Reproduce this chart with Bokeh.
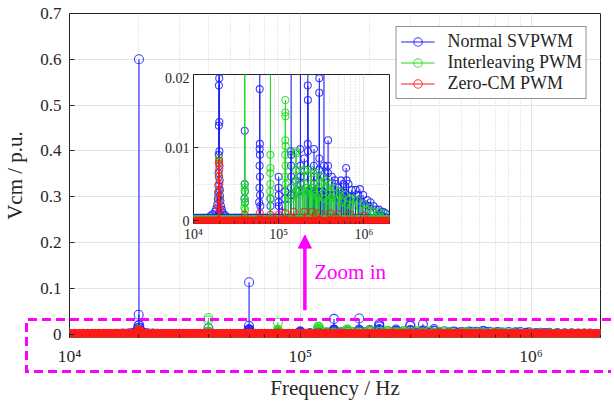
from bokeh.plotting import figure
from bokeh.models import (ColumnDataSource, Range1d, FixedTicker, Legend, LegendItem,
                          Arrow, NormalHead, Label, Div)
from bokeh.layouts import column
from bokeh.embed import file_html
from bokeh.resources import INLINE

# ---------------- data (frequencies in kHz, amplitudes in p.u.) ----------------
# sampled FFT bins along the spectrum floor
floor_khz = [10, 10.5, 11, 11.5, 12, 12.5, 13, 13.5, 14, 14.5, 15, 15.5, 16, 16.5, 17, 17.5,
             18, 18.5, 19, 19.5, 20, 20.5, 21, 22, 23, 24, 25, 26, 27, 28, 29, 30, 31, 32, 33,
             34, 35, 36, 37, 38, 39, 40, 42, 44, 46, 48, 50, 52, 54, 56, 58, 60, 62, 64, 66, 68,
             70, 72.5, 75, 77.5, 80, 82.5, 85, 87.5, 90, 92.5, 95, 97.5, 100, 105, 110, 115, 120,
             125, 130, 135, 140, 145, 150, 155, 160, 165, 170, 175, 180, 190, 200, 210, 220, 230,
             240, 250, 260, 270, 280, 290, 300, 320, 340, 360, 380, 400, 420, 440, 460, 480, 500,
             525, 550, 575, 600, 650, 700, 750, 800, 850, 900, 950, 1000, 1050, 1100, 1150, 1200,
             1300, 1400, 1500, 1600, 1700, 1800, 1900, 2000]
floor_normal = 0.0004
floor_inter = 0.0002
floor_zero = 0.0

normal_khz = [20.0, 19.95, 20.05, 19.9, 20.1, 19.85, 20.15, 19.8, 20.2, 19.7, 20.3, 19.6, 20.4,
              19.5, 20.5, 19.3, 20.7, 19.0, 21.0, 18.5, 21.5, 18.0, 22.0, 17.0, 23.0, 16.0, 24.0,
              40.0, 39.9, 40.1, 39.8, 40.2,
              60.0, 59.9, 60.1, 59.8, 60.2, 59.7, 60.3, 59.5, 60.5, 59.0, 61.0,
              80.0, 80.2, 100.0, 99.8, 100.2, 99.5, 100.5, 120.0, 119.7,
              140.0, 139.8, 140.2, 139.6, 140.4, 139.3, 140.7, 160.0, 160.3,
              180.0, 179.7, 180.3, 179.4, 180.6, 200.0, 200.4,
              220.0, 219.7, 220.3, 219.4, 220.6, 219.0,
              260.0, 259.6, 260.4, 259.0, 300.0, 299.5, 300.5, 299.0,
              340.0, 339.5, 340.5, 380.0, 379.5, 380.5,
              420, 460, 465, 500, 540, 545, 580, 620, 625, 660, 720, 800, 860, 900, 980, 1100,
              1200, 1300, 1500, 1700,
              110, 130, 150, 170, 190, 210, 230, 250, 270, 290, 310, 330, 350, 370, 400, 440,
              480, 520, 560, 600, 640, 700, 750, 850, 950, 1050, 1150, 1400, 1600, 1800]
normal_val = [0.600, 0.042, 0.0195, 0.0185, 0.0135, 0.013, 0.0095, 0.009, 0.0075, 0.0065, 0.0055,
              0.0048, 0.0042, 0.0038, 0.0034, 0.003, 0.0027, 0.0022, 0.002, 0.0016, 0.0015,
              0.0012, 0.0011, 0.0009, 0.0008, 0.0007, 0.0006,
              0.0123, 0.005, 0.004, 0.003, 0.0025,
              0.113, 0.018, 0.0105, 0.0098, 0.009, 0.0075, 0.006, 0.0045, 0.0035, 0.0025, 0.002,
              0.003, 0.002, 0.006, 0.0045, 0.0035, 0.0025, 0.002, 0.004, 0.003,
              0.033, 0.0095, 0.009, 0.0075, 0.006, 0.0045, 0.0035, 0.0055, 0.004,
              0.034, 0.0098, 0.0075, 0.006, 0.005, 0.0085, 0.006,
              0.022, 0.0185, 0.0165, 0.0105, 0.0095, 0.007,
              0.0098, 0.0075, 0.006, 0.005, 0.0195, 0.0175, 0.0085, 0.007,
              0.0215, 0.0075, 0.006, 0.011, 0.0075, 0.0065,
              0.006, 0.0055, 0.005, 0.0045, 0.0055, 0.004, 0.005, 0.0072, 0.0055, 0.005, 0.0042,
              0.0042, 0.0035, 0.0043, 0.0035, 0.0028, 0.0025, 0.002, 0.0015, 0.0012,
              0.002, 0.003, 0.0035, 0.004, 0.004, 0.0045, 0.004, 0.0045, 0.004, 0.004, 0.0035,
              0.004, 0.0038, 0.0035, 0.0035, 0.0035, 0.003, 0.0032, 0.0035, 0.0038, 0.0035,
              0.0033, 0.003, 0.0028, 0.0025, 0.0022, 0.002, 0.0015, 0.0012, 0.001]

inter_khz = [20.0, 19.95, 20.05, 19.9, 20.1,
             40.0, 39.95, 40.05, 39.9, 40.1, 39.8, 40.2, 39.6, 40.4,
             80.0, 79.9, 80.1, 79.8, 80.2, 79.6, 80.4,
             120.0, 119.8, 120.2, 119.6, 120.4, 119.3, 120.7, 119.0, 121.0,
             160.0, 159.7, 160.3, 159.4, 160.6, 200.0, 199.6, 200.4, 240.0, 239.5, 240.5,
             280, 280.5, 320, 320.5, 360, 360.5, 400, 400.5, 440, 520, 525, 600, 680, 760, 840,
             1000, 1200, 1500,
             130, 140, 150, 170, 180, 190, 210, 220, 230, 250, 260, 270, 290, 300, 340, 380,
             420, 460, 500, 560, 640, 720, 900, 1100, 1300, 1700]
inter_val = [0.0085, 0.008, 0.006, 0.004, 0.003,
             0.035, 0.03, 0.005, 0.0045, 0.004, 0.003, 0.0025, 0.0018, 0.0015,
             0.025, 0.009, 0.0072, 0.0065, 0.005, 0.004, 0.003,
             0.0165, 0.0148, 0.0143, 0.011, 0.0102, 0.009, 0.0075, 0.006, 0.005,
             0.0095, 0.0092, 0.007, 0.0055, 0.004, 0.007, 0.0068, 0.005, 0.007, 0.0065, 0.005,
             0.0065, 0.005, 0.006, 0.005, 0.0055, 0.0045, 0.005, 0.004, 0.0045, 0.004, 0.0035,
             0.0035, 0.003, 0.003, 0.0028, 0.0022, 0.0018, 0.0012,
             0.0035, 0.003, 0.0045, 0.0042, 0.0035, 0.004, 0.0038, 0.0045, 0.0042, 0.0038,
             0.004, 0.0035, 0.0032, 0.0035, 0.003, 0.0028, 0.0032, 0.003, 0.0028, 0.0025,
             0.0022, 0.002, 0.0018, 0.0015, 0.0012, 0.001]

zero_khz = [20.0, 19.95, 20.05, 19.9, 20.1, 19.8, 20.2, 19.6, 20.4,
            40, 60, 80, 100, 120, 150, 200, 250, 300, 400, 500, 700, 1000]
zero_val = [0.0082, 0.0078, 0.007, 0.006, 0.005, 0.004, 0.003, 0.002, 0.0015,
            0.0008, 0.001, 0.0008, 0.0008, 0.001, 0.0012, 0.0012, 0.0012, 0.001, 0.001,
            0.0009, 0.0008, 0.0007]

series_names = ["Normal SVPWM", "Interleaving PWM", "Zero-CM PWM"]
series_colors = ["#1f1fff", "#1edc1e", "#ff1a1a"]

x_ticks = [1e4, 1e5, 1e6]
x_tick_labels = ["10\u2074", "10\u2075", "10\u2076"]
y_ticks_main = [0, 0.1, 0.2, 0.3, 0.4, 0.5, 0.6, 0.7]
y_labels_main = ["0", "0.1", "0.2", "0.3", "0.4", "0.5", "0.6", "0.7"]
y_ticks_inset = [0, 0.01, 0.02]
y_labels_inset = ["0", "0.01", "0.02"]
y_minor_inset = [0.005, 0.015]
x_minor = [m * d for d in (1e4, 1e5, 1e6) for m in range(2, 10) if m * d <= 2e6]

FONT = "Liberation Serif"
AX = "#262626"

def series_sources(floor_level, khz, val):
    fx = [f * 1000 for f in floor_khz]
    fy = [floor_level] * len(floor_khz)
    px = [f * 1000 for f in khz]
    floor_src = ColumnDataSource(dict(x=fx, y=fy, y0=[0] * len(fx)))
    peak_src = ColumnDataSource(dict(x=px, y=list(val), y0=[0] * len(px)))
    return floor_src, peak_src

data = [series_sources(floor_normal, normal_khz, normal_val),
        series_sources(floor_inter, inter_khz, inter_val),
        series_sources(floor_zero, zero_khz, zero_val)]

def style_axes(fig, yt, yl, ysize, xsize):
    fig.xaxis.ticker = FixedTicker(ticks=x_ticks, minor_ticks=x_minor)
    fig.xaxis.major_label_overrides = {t: l for t, l in zip(x_ticks, x_tick_labels)}
    fig.yaxis.ticker = FixedTicker(ticks=yt)
    fig.yaxis.major_label_overrides = {t: l for t, l in zip(yt, yl)}
    for ax in (fig.xaxis, fig.yaxis):
        ax.axis_line_color = None
        ax.major_tick_in = 5
        ax.major_tick_out = 0
        ax.minor_tick_in = 3
        ax.minor_tick_out = 0
        ax.major_tick_line_color = AX
        ax.minor_tick_line_color = AX
        ax.major_label_text_font = FONT
        ax.major_label_text_color = AX
    fig.yaxis.minor_tick_line_color = None
    fig.yaxis.major_label_text_font_size = ysize
    fig.xaxis.major_label_text_font_size = xsize
    fig.xgrid.grid_line_color = "#e3e3e3"
    fig.xgrid.minor_grid_line_color = "#d2d2d2"
    fig.xgrid.minor_grid_line_dash = "1 2"
    fig.ygrid.grid_line_color = "#e3e3e3"
    fig.outline_line_color = AX
    fig.outline_line_alpha = 1

def draw_series(fig, size, floor_w):
    rends = []
    for i, (floor_src, peak_src) in enumerate(data):
        c = series_colors[i]
        fig.line("x", "y", source=floor_src, line_color=c, line_width=floor_w, line_cap="round")
        fig.scatter("x", "y", source=floor_src, marker="circle", size=size,
                    fill_color=None, line_color=c, line_width=1)
        seg = fig.segment(x0="x", y0="y0", x1="x", y1="y", source=peak_src,
                          line_color=c, line_width=1.1)
        sc = fig.scatter("x", "y", source=peak_src, marker="circle", size=size,
                         fill_color=None, line_color=c, line_width=1.1, line_alpha=0.85)
        rends.append((seg, sc))
    return rends

# ---------------- main figure ----------------
p = figure(width=612, height=402, x_axis_type="log",
           x_range=Range1d(1e4, 2e6), y_range=Range1d(-0.0076, 0.7),
           output_backend="svg", toolbar_location=None,
           min_border_left=67, min_border_right=6, min_border_top=13, min_border_bottom=63)
p.background_fill_color = "white"
p.border_fill_color = "white"
style_axes(p, y_ticks_main, y_labels_main, "17px", "17.5px")
p.xaxis.major_label_standoff = 8
p.yaxis.major_label_standoff = 8
p.xaxis.axis_label = "Frequency / Hz"
p.yaxis.axis_label = "Vcm / p.u."
for ax in (p.xaxis, p.yaxis):
    ax.axis_label_text_font = FONT
    ax.axis_label_text_font_size = "21px"
    ax.axis_label_text_font_style = "normal"
    ax.axis_label_text_color = AX
p.xaxis.axis_label_standoff = 7
p.yaxis.axis_label_standoff = 10

main_rends = draw_series(p, 9, 9)

legend = Legend(items=[LegendItem(label=series_names[i], renderers=list(main_rends[i]))
                       for i in range(3)],
                location="top_right", margin=13, padding=4, spacing=0,
                label_height=21, glyph_height=21, glyph_width=34, label_standoff=13,
                label_text_font=FONT, label_text_font_size="18px", label_text_color=AX,
                border_line_color=AX, border_line_width=1, background_fill_color="white",
                background_fill_alpha=1)
p.add_layout(legend)

magenta = "#ff00ff"
p.add_layout(Arrow(x_start=1.047e5, y_start=0.052, x_end=1.047e5, y_end=0.216,
                   line_color=magenta, line_width=3.5,
                   end=NormalHead(size=13, fill_color=magenta, line_color=magenta)))
p.add_layout(Label(x=1.15e5, y=0.135, text="Zoom in", text_baseline="middle",
                   text_color=magenta, text_font=FONT, text_font_size="21px"))

# ---------------- inset figure ----------------
inset = figure(width=277, height=175, x_axis_type="log",
               x_range=Range1d(1e4, 2e6), y_range=Range1d(-0.0004, 0.02),
               output_backend="svg", toolbar_location=None,
               min_border_left=40, min_border_right=12, min_border_top=2, min_border_bottom=24)
inset.background_fill_color = "white"
inset.border_fill_color = None
style_axes(inset, y_ticks_inset, y_labels_inset, "14px", "14px")
inset.yaxis.ticker = FixedTicker(ticks=y_ticks_inset, minor_ticks=y_minor_inset)
inset.ygrid.minor_grid_line_color = "#d2d2d2"
inset.ygrid.minor_grid_line_dash = "1 2"
inset.xaxis.major_label_standoff = 3
inset.yaxis.major_label_standoff = 4
inset.xaxis.minor_tick_in = 2
draw_series(inset, 7, 7)
inset.styles = {"position": "absolute", "left": "124px", "top": "72px"}

# ---------------- dashed "zoom" frame ----------------
box = Div(width=586, height=56,
          text='<svg width="586" height="56" style="display:block" '
               'xmlns="http://www.w3.org/2000/svg">'
               '<path d="M 586 1.5 H 1.5 V 53.5 H 586" fill="none" stroke="#ff00ff" '
               'stroke-width="3" stroke-dasharray="9 5"/></svg>',
          styles={"position": "absolute", "left": "20px", "top": "313px"})

root = column(p, inset, box, spacing=0)
open("out.html", "w").write(file_html(root, INLINE))
